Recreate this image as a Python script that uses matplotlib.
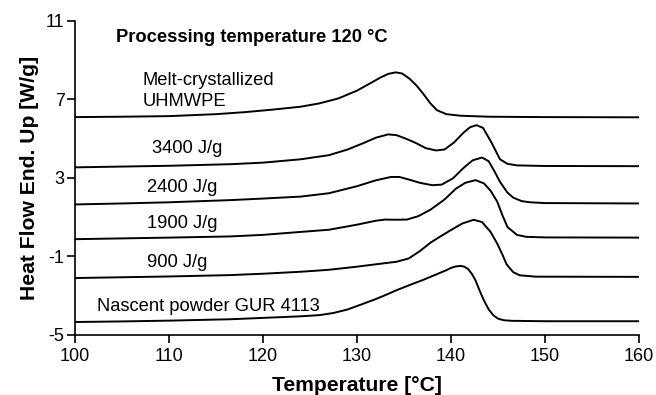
import matplotlib
matplotlib.use("Agg")
import matplotlib.pyplot as plt

plt.rcParams['font.family'] = ['Liberation Sans', 'DejaVu Sans']
plt.rcParams['axes.unicode_minus'] = False

# DSC heating traces, temperature in deg C, heat flow in W/g (offset per trace)
t_melt = [100, 105, 110, 115, 118, 121, 124, 126, 128, 130, 131.5, 132.5, 133.3,
          134.1, 134.8, 135.6, 136.3, 137.0, 137.8, 138.5, 139.5, 141, 144, 150, 160]
hf_melt = [6.10, 6.12, 6.15, 6.25, 6.35, 6.48, 6.63, 6.80, 7.05, 7.45, 7.85, 8.12, 8.30,
           8.38, 8.32, 8.05, 7.72, 7.31, 6.80, 6.45, 6.25, 6.17, 6.12, 6.10, 6.09]

t_3400 = [100, 105, 110, 116.5, 120, 124, 127, 129, 130.6, 132, 133.3, 134.2, 135.3,
          136.3, 137.3, 138.4, 139.3, 140.3, 141.3, 142.0, 142.7, 143.4, 144.3, 145.2,
          146.0, 147.0, 150, 160]
hf_3400 = [3.54, 3.58, 3.62, 3.70, 3.78, 3.95, 4.16, 4.45, 4.76, 5.05, 5.22, 5.18, 4.98,
           4.77, 4.52, 4.40, 4.45, 4.80, 5.30, 5.58, 5.69, 5.55, 4.80, 3.95,
           3.72, 3.64, 3.61, 3.60]

t_2400 = [100, 105, 110, 116.5, 120, 124, 127, 130, 132, 133.6, 134.5, 135.5, 136.7,
          138.0, 139.0, 140.2, 141.3, 142.3, 143.3, 144.0, 144.6, 145.2, 146.0, 146.6,
          147.5, 148.4, 150, 160]
hf_2400 = [1.65, 1.70, 1.76, 1.87, 1.95, 2.05, 2.22, 2.58, 2.88, 3.05, 3.05, 2.92, 2.75,
           2.63, 2.66, 2.98, 3.50, 3.90, 4.04, 3.85, 3.35, 2.80, 2.25, 2.00,
           1.82, 1.76, 1.72, 1.70]

t_1900 = [100, 105, 110, 116.5, 120, 124, 127, 130, 132, 133, 134, 135.3, 136.5,
          137.8, 139.3, 140.5, 141.5, 142.6, 143.5, 144.2, 144.9, 145.5, 146.0, 147.0,
          148, 150, 160]
hf_1900 = [-0.12, -0.08, -0.04, 0.02, 0.10, 0.25, 0.36, 0.62, 0.82, 0.88, 0.87, 0.88, 1.05,
           1.38, 1.90, 2.45, 2.75, 2.89, 2.72, 2.35, 1.80, 1.05, 0.50, 0.10,
           0.00, -0.03, -0.04]

t_900 = [100, 105, 110, 116.5, 120, 124, 127, 130, 132, 134.2, 135.5, 136.7, 137.8,
         138.8, 140, 141.2, 142.4, 143.3, 144.2, 144.9, 145.5, 145.9, 146.6, 147.3,
         149, 160]
hf_900 = [-2.10, -2.06, -2.02, -1.95, -1.88, -1.78, -1.68, -1.52, -1.40, -1.27, -1.10, -0.72, -0.30,
          0.00, 0.35, 0.68, 0.87, 0.75, 0.25, -0.34, -0.95, -1.40, -1.80, -1.96,
          -2.03, -2.04]

t_nasc = [100, 105, 110, 116.5, 120, 124, 126, 127.5, 129, 130.6, 132, 133.2, 134.2,
          135.2, 136, 137, 137.8, 138.7, 139.5, 140.0, 140.5, 141.0, 141.4, 141.8,
          142.2, 142.6, 143.0, 143.5, 144.0, 144.5, 145.0, 145.6, 146.5, 150, 160]
hf_nasc = [-4.34, -4.31, -4.27, -4.20, -4.13, -4.05, -3.99, -3.88, -3.70, -3.42, -3.17, -2.93, -2.72,
           -2.53, -2.38, -2.20, -2.04, -1.86, -1.70, -1.58, -1.51, -1.48, -1.52, -1.64,
           -1.88, -2.22, -2.70, -3.25, -3.70, -4.00, -4.17, -4.25, -4.28, -4.30, -4.30]

curves = [(t_melt, hf_melt), (t_3400, hf_3400), (t_2400, hf_2400),
          (t_1900, hf_1900), (t_900, hf_900), (t_nasc, hf_nasc)]

fig = plt.figure(figsize=(6.56, 3.95), dpi=100)
ax = fig.add_axes([0.1143, 0.152, 0.86, 0.795])

for t, hf in curves:
    ax.plot(t, hf, color='black', lw=1.4, solid_joinstyle='round')

ax.set_xlim(100, 160)
ax.set_ylim(-5, 11)
ax.set_xticks([100, 110, 120, 130, 140, 150, 160])
ax.set_yticks([-5, -1, 3, 7, 11])
ax.tick_params(direction='out', length=5.5, width=1.2, labelsize=13, pad=2)
ax.tick_params(axis='x', pad=4)
for s in ['top', 'right']:
    ax.spines[s].set_visible(False)
for s in ['left', 'bottom']:
    ax.spines[s].set_linewidth(1.2)

ax.set_xlabel('Temperature [°C]', fontsize=15.2, fontweight='bold', labelpad=8)
ax.set_ylabel('Heat Flow End. Up [W/g]', fontsize=15.2, fontweight='bold', labelpad=5)

ax.text(104.4, 10.18, 'Processing temperature 120 °C', fontsize=13.2,
        fontweight='bold', va='center')
ax.text(107.2, 7.43, 'Melt-crystallized\nUHMWPE', fontsize=13.2, va='center',
        linespacing=1.3)
ax.text(108.2, 4.52, '3400 J/g', fontsize=13.2, va='center')
ax.text(107.7, 2.53, '2400 J/g', fontsize=13.2, va='center')
ax.text(107.7, 0.68, '1900 J/g', fontsize=13.2, va='center')
ax.text(107.7, -1.33, '900 J/g', fontsize=13.2, va='center')
ax.text(102.3, -3.54, 'Nascent powder GUR 4113', fontsize=13.2, va='center')

fig.savefig('out.png', dpi=100)
